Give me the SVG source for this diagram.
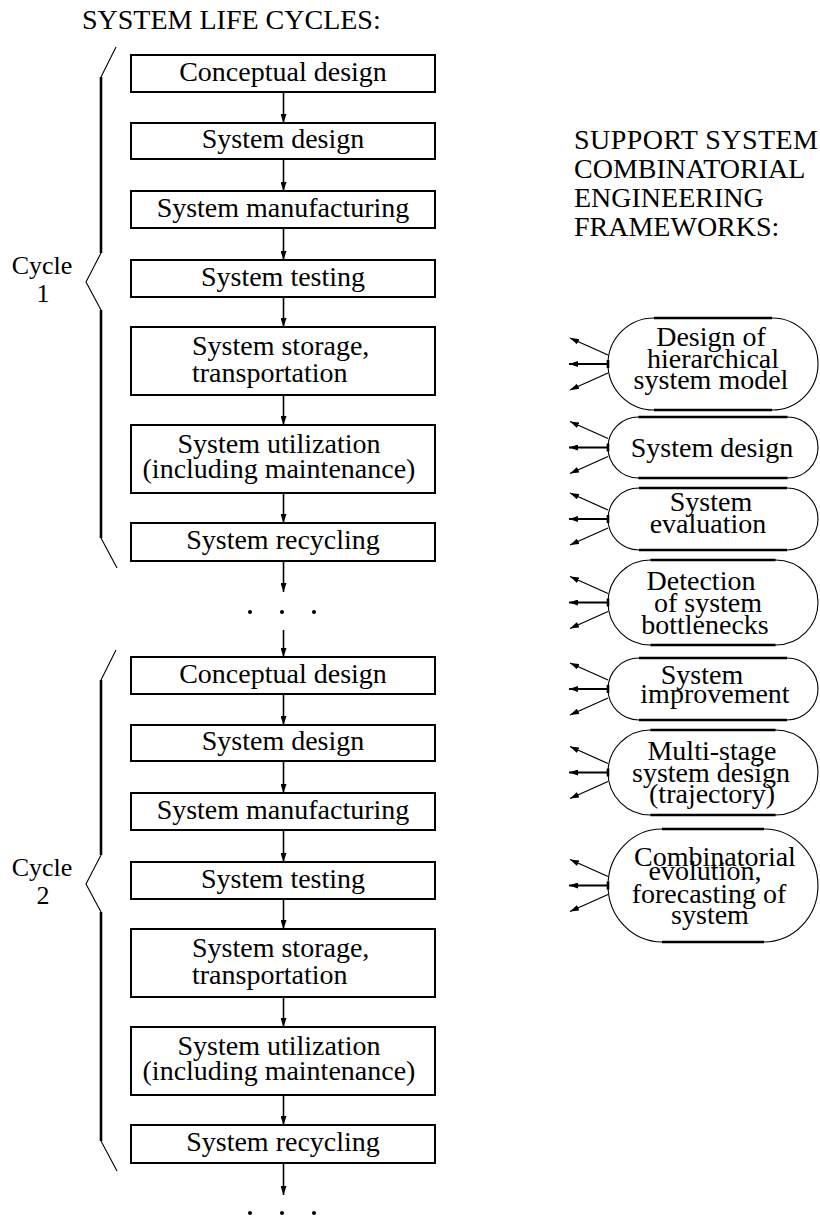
<svg xmlns="http://www.w3.org/2000/svg" width="820" height="1221" viewBox="0 0 820 1221">
<style>
.t{font-family:'Liberation Serif','DejaVu Serif','Times New Roman',serif;font-size:28px;fill:#000}
.m{text-anchor:middle}
.box{fill:#fff;stroke:#000;stroke-width:2}
.conn{stroke:#000;stroke-width:1.6;fill:none;marker-end:url(#ah)}
.thin{stroke:#000;stroke-width:1.1;fill:none}
.thick{stroke:#000;stroke-width:2.6;fill:none}
.oval{fill:#fff;stroke:#000;stroke-width:1.1}
.ovs{stroke:#000;stroke-width:2.6;fill:none}
.na{stroke:#000;stroke-width:1.3;fill:none;marker-end:url(#ah)}
.nm{stroke:#000;stroke-width:2.2;fill:none;marker-end:url(#ah)}
</style>
<defs>
<marker id="ah" viewBox="0 0 9 6" refX="9" refY="3" markerWidth="9" markerHeight="6" markerUnits="userSpaceOnUse" orient="auto"><path d="M0,0 L9,3 L0,6 z" fill="#000"/></marker>
</defs>
<rect width="820" height="1221" fill="#fff"/>
<g id="headers">
<text class="t" x="82" y="29">SYSTEM LIFE CYCLES:</text>
<text class="t" x="574" y="149" textLength="244">SUPPORT SYSTEM</text>
<text class="t" x="574" y="178">COMBINATORIAL</text>
<text class="t" x="574" y="207">ENGINEERING</text>
<text class="t" x="574" y="236">FRAMEWORKS:</text>
</g>
<g id="brace1">
<path class="thin" d="M116,47 L101,77 M101,253 L86,282 L101,310 M101,538 L117,568"/>
<path class="thick" d="M101,77 V253 M101,310 V538"/>
<text class="t m" x="42" y="274" style="font-size:26px">Cycle</text>
<text class="t m" x="43" y="302" style="font-size:26px">1</text>
</g>
<g id="brace2">
<path class="thin" d="M116,650 L101,680 M101,855 L86,884 L101,912 M101,1141 L117,1171"/>
<path class="thick" d="M101,680 V855 M101,912 V1141"/>
<text class="t m" x="42" y="876" style="font-size:26px">Cycle</text>
<text class="t m" x="43" y="904" style="font-size:26px">2</text>
</g>
<g id="connectors">
<path class="conn" d="M283.5,92 V123"/>
<path class="conn" d="M283.5,159 V191"/>
<path class="conn" d="M283.5,228 V260"/>
<path class="conn" d="M283.5,297 V327"/>
<path class="conn" d="M283.5,395 V425"/>
<path class="conn" d="M283.5,493 V523"/>
<path class="conn" d="M283.5,561 V592"/>
<path class="conn" d="M283.5,630 V657"/>
<path class="conn" d="M283.5,694 V725"/>
<path class="conn" d="M283.5,761 V793"/>
<path class="conn" d="M283.5,830 V862"/>
<path class="conn" d="M283.5,899 V929"/>
<path class="conn" d="M283.5,997 V1027"/>
<path class="conn" d="M283.5,1095 V1125"/>
<path class="conn" d="M283.5,1163 V1195"/>
</g>
<g id="dots1"><circle cx="250" cy="612" r="2"/><circle cx="282" cy="612" r="2"/><circle cx="314" cy="612" r="2"/></g>
<g id="dots2"><circle cx="250" cy="1213" r="2"/><circle cx="282" cy="1213" r="2"/><circle cx="314" cy="1213" r="2"/></g>
<g id="c1-conceptual"><rect class="box" x="131" y="55" width="304" height="37"/><text class="t m" x="283" y="81">Conceptual design</text></g>
<g id="c1-design"><rect class="box" x="131" y="123" width="304" height="36"/><text class="t m" x="283" y="148">System design</text></g>
<g id="c1-manufacturing"><rect class="box" x="131" y="191" width="304" height="37"/><text class="t m" x="283" y="217">System manufacturing</text></g>
<g id="c1-testing"><rect class="box" x="131" y="260" width="304" height="37"/><text class="t m" x="283" y="286">System testing</text></g>
<g id="c1-storage"><rect class="box" x="131" y="327" width="304" height="68"/><text class="t" x="192" y="355">System storage,</text><text class="t" x="192" y="382">transportation</text></g>
<g id="c1-utilization"><rect class="box" x="131" y="425" width="304" height="68"/><text class="t m" x="279" y="453">System utilization</text><text class="t m" x="279" y="478">(including maintenance)</text></g>
<g id="c1-recycling"><rect class="box" x="131" y="523" width="304" height="38"/><text class="t m" x="283" y="549">System recycling</text></g>
<g id="c2-conceptual"><rect class="box" x="131" y="657" width="304" height="37"/><text class="t m" x="283" y="683">Conceptual design</text></g>
<g id="c2-design"><rect class="box" x="131" y="725" width="304" height="36"/><text class="t m" x="283" y="750">System design</text></g>
<g id="c2-manufacturing"><rect class="box" x="131" y="793" width="304" height="37"/><text class="t m" x="283" y="819">System manufacturing</text></g>
<g id="c2-testing"><rect class="box" x="131" y="862" width="304" height="37"/><text class="t m" x="283" y="888">System testing</text></g>
<g id="c2-storage"><rect class="box" x="131" y="929" width="304" height="68"/><text class="t" x="192" y="957">System storage,</text><text class="t" x="192" y="984">transportation</text></g>
<g id="c2-utilization"><rect class="box" x="131" y="1027" width="304" height="68"/><text class="t m" x="279" y="1055">System utilization</text><text class="t m" x="279" y="1080">(including maintenance)</text></g>
<g id="c2-recycling"><rect class="box" x="131" y="1125" width="304" height="38"/><text class="t m" x="283" y="1151">System recycling</text></g>
<g id="f1">
<path class="oval" d="M654,318 H772 A46,46 0 0 1 772,410 H654 A46,46 0 0 1 654,318 Z"/>
<path class="ovs" d="M654,318 H772 M654,410 H772 M608,360 V368"/>
<path class="na" d="M608,355 L570,338"/><path class="nm" d="M608,364 H569"/><path class="na" d="M608,373 L570,390"/>
<text class="t m" x="711" y="346">Design of</text><text class="t m" x="713" y="368">hierarchical</text><text class="t m" x="711" y="389">system model</text>
</g>
<g id="f2">
<path class="oval" d="M638.5,417 H787.5 A30.5,30.5 0 0 1 787.5,478 H638.5 A30.5,30.5 0 0 1 638.5,417 Z"/>
<path class="ovs" d="M638.5,417 H787.5 M638.5,478 H787.5 M608,443.5 V451.5"/>
<path class="na" d="M608,438.5 L570,421.5"/><path class="nm" d="M608,447.5 H569"/><path class="na" d="M608,456.5 L570,473.5"/>
<text class="t m" x="712" y="457">System design</text>
</g>
<g id="f3">
<path class="oval" d="M639,488 H787 A31,31 0 0 1 787,550 H639 A31,31 0 0 1 639,488 Z"/>
<path class="ovs" d="M639,488 H787 M639,550 H787 M608,515 V523"/>
<path class="na" d="M608,510 L570,493"/><path class="nm" d="M608,519 H569"/><path class="na" d="M608,528 L570,545"/>
<text class="t m" x="711" y="511">System</text><text class="t m" x="708" y="533">evaluation</text>
</g>
<g id="f4">
<path class="oval" d="M650.5,560 H775.5 A42.5,42.5 0 0 1 775.5,645 H650.5 A42.5,42.5 0 0 1 650.5,560 Z"/>
<path class="ovs" d="M650.5,560 H775.5 M650.5,645 H775.5 M608,598.5 V606.5"/>
<path class="na" d="M608,593.5 L570,576.5"/><path class="nm" d="M608,602.5 H569"/><path class="na" d="M608,611.5 L570,628.5"/>
<text class="t m" x="701" y="590">Detection</text><text class="t m" x="708" y="612">of system</text><text class="t m" x="705" y="634">bottlenecks</text>
</g>
<g id="f5">
<path class="oval" d="M639,658 H787 A31,31 0 0 1 787,720 H639 A31,31 0 0 1 639,658 Z"/>
<path class="ovs" d="M639,658 H787 M639,720 H787 M608,685 V693"/>
<path class="na" d="M608,680 L570,663"/><path class="nm" d="M608,689 H569"/><path class="na" d="M608,698 L570,715"/>
<text class="t m" x="702" y="684">System</text><text class="t m" x="715" y="703">improvement</text>
</g>
<g id="f6">
<path class="oval" d="M650.5,730 H775.5 A42.5,42.5 0 0 1 775.5,815 H650.5 A42.5,42.5 0 0 1 650.5,730 Z"/>
<path class="ovs" d="M650.5,730 H775.5 M650.5,815 H775.5 M608,768.5 V776.5"/>
<path class="na" d="M608,763.5 L570,746.5"/><path class="nm" d="M608,772.5 H569"/><path class="na" d="M608,781.5 L570,798.5"/>
<text class="t m" x="712" y="760">Multi-stage</text><text class="t m" x="711" y="782">system design</text><text class="t m" x="712" y="803">(trajectory)</text>
</g>
<g id="f7">
<path class="oval" d="M662,829 H764 A54,56.5 0 0 1 764,942 H662 A54,56.5 0 0 1 662,829 Z"/>
<path class="ovs" d="M662,829 H764 M662,942 H764 M608,881.5 V889.5"/>
<path class="na" d="M608,876.5 L570,859.5"/><path class="nm" d="M608,885.5 H569"/><path class="na" d="M608,894.5 L570,911.5"/>
<text class="t m" x="715" y="866">Combinatorial</text><text class="t m" x="705" y="880">evolution,</text><text class="t m" x="709" y="903">forecasting of</text><text class="t m" x="710" y="924">system</text>
</g>
</svg>
